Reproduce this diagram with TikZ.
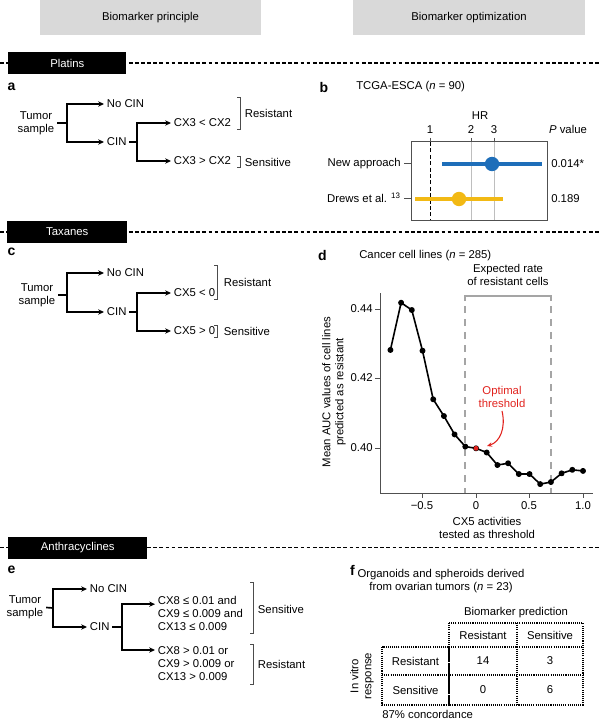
\documentclass[tikz,border=0pt]{standalone}
\usepackage{fontspec}
\setmainfont{Liberation Sans}
\usetikzlibrary{arrows.meta}

\begin{document}
\begin{tikzpicture}[x=0.75pt, y=-0.75pt,
    font=\fontsize{8.5}{9.8}\selectfont,
    hdrbox/.style={fill=hdrgray, minimum width=#1, minimum height=26.25pt, inner sep=0pt},
    drugbar/.style={fill=black, text=white, minimum width=#1, minimum height=16.5pt, inner sep=0pt, anchor=west},
    sepline/.style={line width=1.1pt, dash pattern=on 2.8pt off 1.8pt},
    panel/.style={font=\fontsize{10.5}{12}\selectfont\bfseries, inner sep=0pt},
    tree/.style={inner xsep=2pt, inner ysep=1pt},
    link/.style={line width=1.25pt},
    arr/.style={line width=1.25pt, -{Stealth[length=4.4pt, width=4pt]}},
    brk/.style={line width=0.6pt, black!70},
    axisline/.style={line width=0.75pt, axisgray},
    rateline/.style={line width=0.8pt, rategray},
    tabline/.style={line width=1.1pt, dash pattern=on 0.8pt off 0.8pt},
    cell/.style={inner sep=1pt}
]
    % Define colors
    \definecolor{hdrgray}{RGB}{217, 217, 217}
    \definecolor{axisgray}{RGB}{80, 80, 80}
    \definecolor{gridgray}{RGB}{190, 190, 190}
    \definecolor{rategray}{RGB}{165, 165, 165}
    \definecolor{newblue}{RGB}{30, 110, 185}
    \definecolor{drewsgold}{RGB}{242, 185, 20}
    \definecolor{optred}{RGB}{225, 35, 30}

    \useasboundingbox (0,0) rectangle (600,723);

    % Column headers
    \node[hdrbox=165.75pt] (hdrL) at (150.5,17.5) {Biomarker principle};
    \node[hdrbox=174pt] (hdrR) at (469,17.5) {Biomarker optimization};

    % Drug separators
    \draw[sepline] (0,63) -- (600,63);
    \draw[sepline] (0,232) -- (600,232);
    \draw[sepline] (0,547.5) -- (600,547.5);
    \node[drugbar=88.5pt] (platins) at (8,63) {Platins};
    \node[drugbar=90pt] (taxanes) at (7,232) {Taxanes};
    \node[drugbar=104.25pt] (anthra) at (8,547.5) {Anthracyclines};

    % Panel a
    \node[panel] (la) at (11.5,87) {a};
    \node[tree, align=center] (tumA) at (36,123) {Tumor\\sample};
    \coordinate (forkA) at (67,123);
    \node[tree, anchor=west] (nocinA) at (104,104) {No CIN};
    \node[tree, anchor=west] (cinA) at (104,142) {CIN};
    \coordinate (forkA2) at (137,142);
    \node[tree, anchor=west] (ltA) at (171,123) {CX3 < CX2};
    \node[tree, anchor=west] (gtA) at (171,161) {CX3 > CX2};
    \draw[link] (tumA.east) -- (forkA);
    \draw[arr] (forkA) |- (nocinA.west);
    \draw[arr] (forkA) |- (cinA.west);
    \draw[link] (cinA.east) -- (forkA2);
    \draw[arr] (forkA2) |- (ltA.west);
    \draw[arr] (forkA2) |- (gtA.west);
    \draw[brk] (237,97) -- (240,97) -- (240,129) -- (237,129);
    \draw[brk] (237,156) -- (240,156) -- (240,167) -- (237,167);
    \node[tree, anchor=west] (resA) at (242,113) {Resistant};
    \node[tree, anchor=west] (senA) at (242,162) {Sensitive};

    % Panel b
    \node[panel] (lb) at (324,87) {b};
    \node[anchor=west, inner sep=0pt] (titleB) at (356,87) {TCGA-ESCA (\textit{n} = 90)};
    \node (hrlab) at (480,116) {HR};
    \foreach \hx/\hl in {430/1, 471/2, 494/3} {
        \draw[axisline] (\hx,138) -- (\hx,142);
        \node[inner sep=0pt] (hr\hl) at (\hx,129.5) {\hl};
    }
    \node[inner sep=0pt] (pval) at (568,129.5) {\textit{P} value};
    \draw[line width=0.75pt, gridgray] (471,142) -- (471,221);
    \draw[line width=0.75pt, gridgray] (494,142) -- (494,221);
    \draw[line width=0.7pt, dash pattern=on 3pt off 1.8pt] (430,142) -- (430,221);
    \draw[axisline] (411,142) rectangle (547,221);
    \draw[axisline] (404,164) -- (411,164);
    \draw[axisline] (404,199) -- (411,199);
    \node[anchor=east, inner sep=0pt] (rowNew) at (401,164) {New approach};
    \node[anchor=east, inner sep=0pt] (rowDrews) at (401,198) {Drews et al. \textsuperscript{13}};
    \draw[newblue, line width=2.4pt] (442,164) -- (542,164);
    \fill[newblue] (492,164) circle (5.4pt);
    \draw[drewsgold, line width=2.4pt] (415,199) -- (503,199);
    \fill[drewsgold] (459,199) circle (5.4pt);
    \node[anchor=west, inner sep=0pt] (pNew) at (551,164) {0.014*};
    \node[anchor=west, inner sep=0pt] (pDrews) at (551,199) {0.189};

    % Panel c
    \node[panel] (lc) at (11.5,252) {c};
    \node[tree, align=center] (tumC) at (37,295) {Tumor\\sample};
    \coordinate (forkC) at (67,295);
    \node[tree, anchor=west] (nocinC) at (104,273) {No CIN};
    \node[tree, anchor=west] (cinC) at (104,312) {CIN};
    \coordinate (forkC2) at (137,312);
    \node[tree, anchor=west] (ltC) at (171,293) {CX5 < 0};
    \node[tree, anchor=west] (gtC) at (171,331) {CX5 > 0};
    \draw[link] (tumC.east) -- (forkC);
    \draw[arr] (forkC) |- (nocinC.west);
    \draw[arr] (forkC) |- (cinC.west);
    \draw[link] (cinC.east) -- (forkC2);
    \draw[arr] (forkC2) |- (ltC.west);
    \draw[arr] (forkC2) |- (gtC.west);
    \draw[brk] (214,265) -- (217,265) -- (217,299) -- (214,299);
    \draw[brk] (214,325) -- (217,325) -- (217,337) -- (214,337);
    \node[tree, anchor=west] (resC) at (221,282) {Resistant};
    \node[tree, anchor=west] (senC) at (221,331) {Sensitive};

    % Panel d
    \node[panel] (ld) at (322.5,255) {d};
    \node[anchor=west, inner sep=0pt] (titleD) at (359,256) {Cancer cell lines (\textit{n} = 285)};
    \node[align=center, inner sep=0pt] (rate) at (508,275) {Expected rate\\of resistant cells};
    \draw[rateline] (465,301) -- (465,296) -- (551,296) -- (551,301);
    \draw[rateline, dash pattern=on 5.25pt off 4.5pt] (465,306) -- (465,493);
    \draw[rateline, dash pattern=on 5.25pt off 4.5pt] (551,306) -- (551,493);
    \draw[axisline] (380,293) -- (380,493) -- (593,493);
    \foreach \ty/\tl in {309/0.44, 378/0.42, 448/0.40} {
        \draw[axisline] (375,\ty) -- (380,\ty);
        \node[anchor=east, inner sep=0pt] (yt\tl) at (373,\ty) {\tl};
    }
    \foreach \tx/\tl/\tn in {422/−0.5/a, 476/0/b, 529/0.5/c, 583/1.0/d} {
        \draw[axisline] (\tx,493) -- (\tx,498);
        \node[anchor=north, inner sep=0pt] (xt\tn) at (\tx,501) {\tl};
    }
    \node[align=center, inner sep=0pt] (xlab) at (487,528) {CX5 activities\\tested as threshold};
    \node[align=center, rotate=90, inner sep=0pt] (ylab) at (334,392) {Mean AUC values of cell lines\\predicted as resistant};
    \begin{scope}[shift={(476,448)}, x=80.25pt, y=2606.25pt, shift={(0,-0.40)}]
        \draw[line width=1.2pt, line join=round] plot[mark=*, mark size=1.6pt] coordinates {
            (-0.8,0.4282) (-0.7,0.4418) (-0.6,0.4397) (-0.5,0.4280) (-0.4,0.4140)
            (-0.3,0.4092) (-0.2,0.4039) (-0.1,0.4004) (0,0.3999) (0.1,0.3987)
            (0.2,0.3951) (0.3,0.3956) (0.4,0.3925) (0.5,0.3925) (0.6,0.3896)
            (0.7,0.3902) (0.8,0.3927) (0.9,0.3937) (1.0,0.3934)};
        \fill[optred] (0,0.3999) circle (1.8pt);
    \end{scope}
    \node[align=center, text=optred, inner sep=0pt] (optlab) at (502,397) {Optimal\\threshold};
    \draw[optred, line width=0.8pt, -{Stealth[length=3.8pt, width=3.3pt]}]
        (optlab.south) ++(0,3) .. controls (506,428) and (500,442) .. (487,446);

    % Panel e
    \node[panel] (le) at (11.5,570) {e};
    \node[tree, align=center] (tumE) at (25,607.5) {Tumor\\sample};
    \coordinate (forkE) at (53,608);
    \node[tree, anchor=west] (nocinE) at (87,589) {No CIN};
    \node[tree, anchor=west] (cinE) at (87,627) {CIN};
    \coordinate (forkE2) at (122,627);
    \node[tree, anchor=west, align=left] (sensE) at (155,613.5) {CX8 ≤ 0.01 and\\CX9 ≤ 0.009 and\\CX13 ≤ 0.009};
    \node[tree, anchor=west, align=left] (resE) at (155,664) {CX8 > 0.01 or\\CX9 > 0.009 or\\CX13 > 0.009};
    \draw[link] (tumE.east) -- (forkE);
    \draw[arr] (forkE) |- (nocinE.west);
    \draw[arr] (forkE) |- (cinE.west);
    \draw[link] (cinE.east) -- (forkE2);
    \draw[arr] (forkE2) |- ([yshift=7pt]sensE.west);
    \draw[arr] (forkE2) |- ([yshift=10.5pt]resE.west);
    \draw[brk] (250,582) -- (253,582) -- (253,633) -- (250,633);
    \draw[brk] (250,644) -- (253,644) -- (253,684) -- (250,684);
    \node[tree, anchor=west] (senE) at (255,609) {Sensitive};
    \node[tree, anchor=west] (resE2) at (255,664) {Resistant};

    % Panel f
    \node[panel] (lf) at (352.5,570) {f};
    \node[align=center, inner sep=0pt] (titleF) at (441,581) {Organoids and spheroids derived\\from ovarian tumors (\textit{n} = 23)};
    \node[inner sep=0pt] (predlab) at (516,613) {Biomarker prediction};
    \draw[tabline] (449,623) rectangle (583,705);
    \draw[tabline] (382,647) rectangle (449,705);
    \draw[tabline] (449,647) -- (583,647);
    \draw[tabline] (382,675) -- (583,675);
    \draw[tabline] (517,623) -- (517,705);
    \node[cell] (colRes) at (483,635) {Resistant};
    \node[cell] (colSen) at (550,635) {Sensitive};
    \node[cell] (rowRes) at (415.5,661) {Resistant};
    \node[cell] (rowSen) at (415.5,690) {Sensitive};
    \node[cell] (rr) at (483,661) {14};
    \node[cell] (rs) at (550,661) {3};
    \node[cell] (sr) at (483,690) {0};
    \node[cell] (ss) at (550,690) {6};
    \node[align=center, rotate=90, inner sep=0pt] (vitro) at (362,676) {In vitro\\response};
    \node[anchor=west, inner sep=0pt] (concord) at (382,714) {87\% concordance};
\end{tikzpicture}
\end{document}
